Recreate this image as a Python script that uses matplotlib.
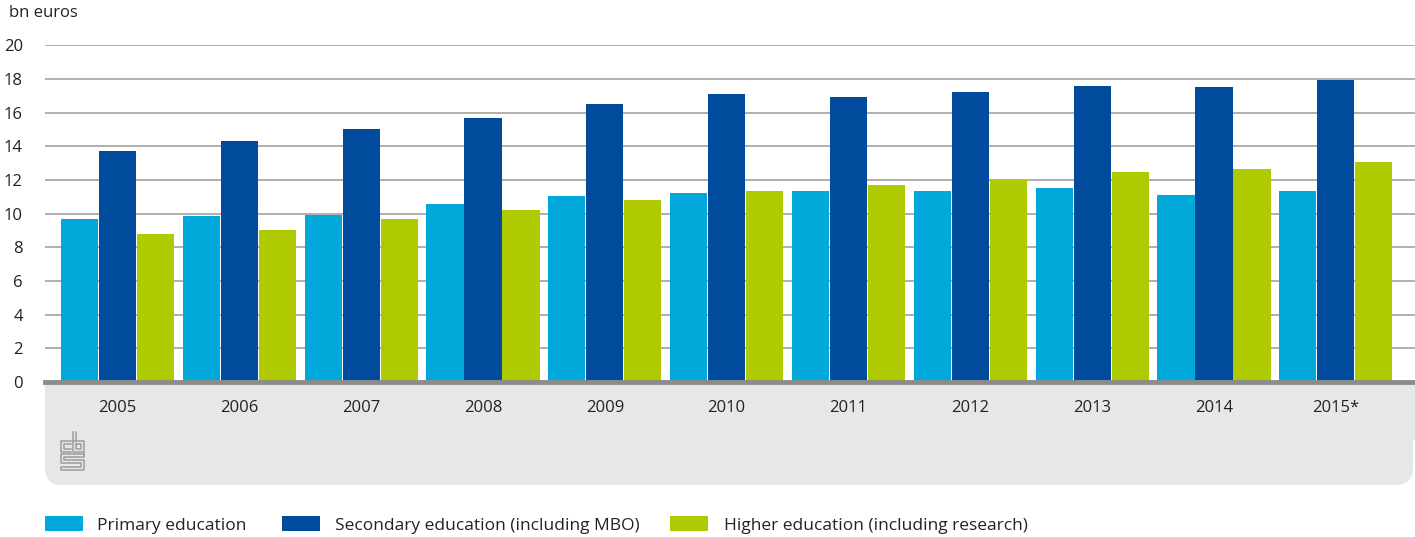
import matplotlib
matplotlib.use("Agg")
import matplotlib.pyplot as plt
import numpy as np
from matplotlib.patches import Rectangle, FancyBboxPatch
from matplotlib.lines import Line2D

years = ["2005", "2006", "2007", "2008", "2009", "2010", "2011", "2012", "2013", "2014", "2015*"]
primary = [9.67, 9.86, 9.92, 10.55, 11.02, 11.25, 11.37, 11.37, 11.55, 11.08, 11.37]
secondary = [13.73, 14.29, 15.02, 15.67, 16.51, 17.12, 16.94, 17.24, 17.61, 17.55, 17.92]
higher = [8.82, 9.00, 9.67, 10.20, 10.84, 11.37, 11.73, 12.00, 12.49, 12.67, 13.08]
series_names = ["Primary education", "Secondary education (including MBO)", "Higher education (including research)"]
colors = ["#00a9d9", "#004b9b", "#afca00"]

plt.rcParams['font.family'] = ['Open Sans', 'DejaVu Sans']

W, H = 1415, 537
fig = plt.figure(figsize=(W / 100, H / 100), dpi=100)

def fx(px):
    return px / W

def fy(py):
    return 1 - py / H

# gray band below the axis
band_col = "#e6e7e7"
fig.patches.append(FancyBboxPatch((fx(45), fy(485)), fx(1413) - fx(45), fy(395) - fy(485),
                                  boxstyle="round,pad=0,rounding_size=0.012",
                                  transform=fig.transFigure, facecolor=band_col, edgecolor="none",
                                  mutation_aspect=W / H, zorder=-2))
fig.patches.append(Rectangle((fx(45), fy(440)), fx(1415) - fx(45), fy(382) - fy(440),
                             transform=fig.transFigure, facecolor=band_col, edgecolor="none", zorder=-2))

ax = fig.add_axes([fx(45), fy(382), 1 - fx(45), fy(45.3) - fy(382)])
ax.set_facecolor("none")
ax.set_zorder(1)

x = np.arange(len(years))
off = 0.312
bw = 0.305
for i, (vals, c) in enumerate(zip([primary, secondary, higher], colors)):
    ax.bar(x + (i - 1) * off, vals, width=bw, color=c, zorder=3, label=series_names[i])

ax.set_xlim(-0.595, 10.65)
ax.set_ylim(0, 20)
ax.set_yticks(range(0, 21, 2))
ax.yaxis.grid(True, color="#9a9a9a", linewidth=1.1, zorder=1)
ax.set_axisbelow(True)
for s in ["top", "right", "left"]:
    ax.spines[s].set_visible(False)
ax.spines["bottom"].set_color("#8c8c8c")
ax.spines["bottom"].set_linewidth(3.5)
ax.spines["bottom"].set_zorder(5)

ax.set_xticks(x)
ax.set_xticklabels(years)
ax.tick_params(axis="x", length=0, pad=13, labelsize=12, labelcolor="#222222")
ax.tick_params(axis="y", length=0, pad=16, labelsize=12, labelcolor="#222222")
for lab in ax.get_yticklabels():
    lab.set_horizontalalignment("right")

fig.text(fx(9), fy(13), "bn euros", fontsize=12, color="#222222", va="center", ha="left")

# CBS logo (approximate)
lg = "#9c9c9c"
def pl(xs, ys):
    fig.lines.append(Line2D([fx(v) for v in xs], [fy(v) for v in ys], transform=fig.transFigure,
                            color=lg, linewidth=1.1, zorder=2))
# "c"
pl([71, 61, 61, 71], [441, 441, 452, 452])
pl([71, 64, 64, 71], [444, 444, 449, 449])
# "b"
pl([73, 73, 84, 84, 73], [432, 452, 452, 441, 441])
pl([76, 76, 81, 81, 76], [444, 449, 449, 444, 444])
pl([76, 76], [432, 441])
# "S"
pl([84, 61, 61, 81, 81, 61, 61, 84, 84, 64, 64, 84, 84], [454, 454, 463, 463, 467, 467, 470, 470, 460, 460, 457, 457, 454])

# legend
leg_x = [45, 282, 670]
txt_x = [97, 335, 724]
for lx, tx, name, c in zip(leg_x, txt_x, series_names, colors):
    fig.patches.append(Rectangle((fx(lx), fy(531)), fx(38), fy(516) - fy(531),
                                 transform=fig.transFigure, facecolor=c, edgecolor="none"))
    fig.text(fx(tx), fy(525.5), name, fontsize=12.5, color="#222222", va="center", ha="left")

fig.savefig("out.png", dpi=100)
